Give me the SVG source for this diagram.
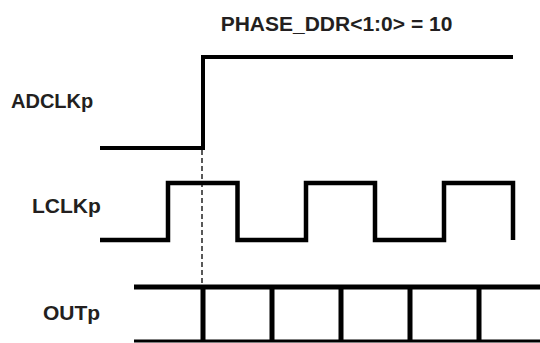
<svg xmlns="http://www.w3.org/2000/svg" width="540" height="343" viewBox="0 0 540 343">
<style>
text{font-family:"Liberation Sans",Arial,sans-serif;font-weight:bold;fill:#231f20;font-size:21px}
.w{fill:none;stroke:#000;stroke-linejoin:miter;stroke-linecap:butt}
</style>
<rect width="540" height="343" fill="#fff"/>
<text x="336.5" y="30.5" text-anchor="middle">PHASE_DDR&lt;1:0&gt; = 10</text>
<g id="adclkp">
<text x="11" y="107.5" style="font-size:20px">ADCLKp</text>
<path class="w" stroke-width="4" d="M100,148 H203 V57 H513"/>
</g>
<g id="lclkp">
<text x="32" y="212.5">LCLKp</text>
<path class="w" stroke-width="4.5" d="M100,240 H168 V183 H237.5 V240 H306 V183 H375 V240 H444 V183 H513 V240"/>
</g>
<g id="outp">
<text x="43" y="320">OUTp</text>
<path class="w" stroke-width="5" d="M134,287 H540"/>
<path class="w" stroke-width="3" d="M134,341 H540"/>
<path class="w" stroke-width="5" d="M203,287 V341 M272,287 V341 M341,287 V341 M410,287 V341 M479,287 V341"/>
</g>
<g id="connectors">
<path class="w" stroke-width="1.3" stroke-dasharray="5,3" d="M202,150 V287"/>
</g>
</svg>
